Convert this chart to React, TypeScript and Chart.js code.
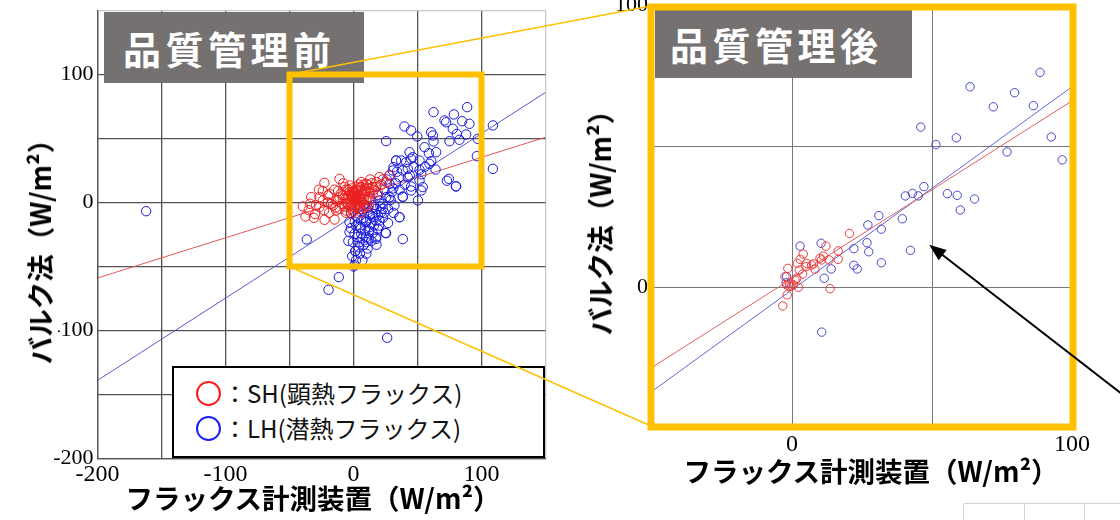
import React, { useEffect, useRef } from 'react';
import { Chart, registerables } from 'chart.js';
Chart.register(...registerables);

// ---- data (W/m2) ----
const SH_BEFORE: number[][] = [
  [-39.6,-3.1],[-37.5,-10.9],[-33,4.2],[-29.2,-2.3],[-26.6,4.2],[-26.6,-3.6],[-24,1.6],[-22.7,15.4],[-22.6,-13.5],[-20,5.5],
  [-18.8,6.8],[-17.4,-1],[-16,-2.3],[-14.8,-13.3],[-13.5,-6.3],[-13.5,1.6],[-10.9,18.5],[-10.9,-4.9],[-8.3,2.9],[-5.7,-6.3],
  [-4.4,-1],[-3.1,13.3],[-1.8,-8.8],[-0.5,8.1],[2.1,4.2],[3.4,-3.6],[6,-7.6],[7.3,6.8],[9.9,14.6],[9.9,-2.3],
  [12.5,1.6],[15.1,6.8],[17.7,12],[20.3,19.8],[25.5,15.9],[28.1,21.1],
  [-8,6],[-6,3],[-5,0],[-4,5],[-3,8],[-2,2],[-1,-2],[0,0],[0,4],[1,7],[1,1],[2,-1],[2,10],[3,3],
  [3,6],[4,1],[4,9],[5,4],[5,12],[6,2],[6,7],[7,10],[8,3],[8,14],[9,6],[10,9],[11,4],[12,11],[13,8],
  [14,15],[-7,-3],[-9,-1],[-11,4],[-12,9],[-6,10],[-2,-5],[1,-4],[4,-2],[7,0],[10,2],[-15,10],[16,10],
  [18,16],[-3,-3],[-1,5],[3,12],[-6,-8],[-19,-8],[-24,9],[-30,-9],[-34,-1],[-8,15],[-31,-12],[22,14],
  [-1,11],[6,16],[-10,7],[0,-7],
  [-1,3],[1,5],[2,2],[3,0],[-2,6],[0,9],[4,14],[6,12],[9,11],[11,14],[13,18],[15,12],[-4,10],[-7,12],
  [-12,2],[-14,-4],[-20,0],[-23,-6],[-27,10],[-35,-6],[8,-4],[5,-5],[12,-3],[19,8],[23,18]
];
const LH_BEFORE: number[][] = [
  [-162,-6.8],[-36.5,-28.9],[-11.5,-58.3],[-19.5,-68.2],[26.3,-105.7],[0.8,-49],[1.3,-38],
  [38.5,-28.6],[25,-23.7],[17.7,-28.4],[36,-11.5],[31.3,-8.1],[32,-2.3],[50.3,1.6],[52.9,9.4],[38.5,4.7],[45,12.5],[80,12.5],[73,17],
  [28.1,14.6],[30.7,25],[33.3,32.8],[15.1,-8.8],[9.9,-14.1],[17.7,-14.1],[22.9,-4.9],[2.1,-18],[25.5,4.2],[20.3,1.6],
  [-3.1,-15.4],[-3.1,-23.2],[-0.5,-31],[1.6,-38],[0,-50],[4.7,-31],[6,-24.5],[9.9,-27.1],[12.5,-19.3],[17.7,-27.1],
  [19,-20.6],[25.5,-24],[21.6,-7.6],[35.9,-11.5],[28.1,4.2],[38.5,4.2],[45,9.4],[7.3,-6.3],[2.1,-10.2],[15.1,-11.5],
  [9.9,-15.4],[4.7,-19.3],[0.8,-24.5],[20.3,-14.1],[15.1,-3.6],[22.9,-1],
  [62.5,70.6],[88.8,74.5],[78.4,68.8],[71.1,64.1],[72.4,62.7],[84.9,63.5],[90.6,61.5],[77.6,57.6],[39.8,59.4],[45,56.3],
  [49.8,51.6],[60.7,54.9],[62,52.3],[62.5,47.7],[75,47.9],[82.8,49],[88,53.1],[80.7,53.6],[25.5,47.9],[97.1,49.7],
  [108.9,60.2],[96.4,36.2],[108.9,26.3],[55.5,43.2],[58.9,38.5],[64.6,39.3],[60.7,32.3],[64.1,25.8],[43.8,39.3],[46.3,35.4],
  [51.6,32.8],[33.3,32.8],[37.3,32.8],[41.2,31.5],[45,34.1],[31.3,27.6],[38.5,25],[42.4,26.3],[51.6,25.5],[59.4,30.2],
  [74.5,18.5],[80.2,12.7],[28.1,21.1],[35.9,19.8],[42.4,19.8],[51.6,17.2],[54.1,12],
  [5,-3],[8,-12],[11,-8],[12,-22],[14,-16],[6,-14],[3,-27],[8,-33],[11,-36],[14,-30],[5,-40],[-2,-8],[18,-5],
  [20,-18],[23,-12],[27,-16],[16,-2],[13,3],[19,6],[24,10],[31,11],[26,18],[34,24],[10,-40],[7,-45],[-1,-42],
  [3,-12],[6,-20],[9,-22],[12,-28],[15,-24],[4,-35],[7,-28],[10,-31],[13,-10],[16,-18],[19,-10],[21,-3],[24,-8],
  [27,-5],[29,2],[30,8],[33,15],[36,10],[40,14],[44,21],[47,28],[53,22],[56,28],[18,-33],[2,-45],[-4,-30],
  [-2,-20],[1,-15],[8,-2],[11,-4]
];
const SH_AFTER: number[][] = [
  [20.5,19],[16.5,12.8],[16.5,9.8],[12.1,14.5],[11.2,11],[10,10.2],[13.2,9.6],[8.2,6.3],[7,7.8],[5.2,8.4],
  [4,11.7],[2.9,9.8],[1.9,8.4],[2.6,6],[3.8,4.6],[1.7,3.1],[-1.5,6.6],[-2.5,3.7],[-1.9,0.7],[-1,1.3],
  [-0.1,0.4],[2.3,-0.1],[-1.7,-2.8],[-3.3,-6.7],[13.6,-0.6],[10.6,9.6],[1.1,2.5],[5,7.2],[7.7,8.2],[0.5,0.8],[-0.8,0.2]
];
const LH_AFTER: number[][] = [
  [88.6,76.1],[63.6,71],[79.5,68.9],[71.9,63.9],[86.2,64.3],[46,56.7],[51.4,50.5],[58.7,52.9],[76.8,47.9],[92.6,53.2],
  [96.5,45.1],[40.5,32.3],[43,33.2],[45.1,32.3],[47.1,35.6],[55.5,33.1],[59,32.5],[60.1,27.3],[65.2,31.2],[39.4,24.2],
  [31,25.3],[27.1,22],[31.9,20.5],[22.1,13.6],[26.8,15.7],[27.4,12.5],[42.3,13],[22.1,7.7],[23.3,6.4],[31.9,8.6],
  [14,6.4],[11.5,3.1],[2.9,14.5],[10.4,15.5],[-1.9,3.7],[10.6,-16],[-2.1,1.5]
];
// regression lines (end points)
const SH_FIT_BEFORE: number[][] = [[-200,-59],[150,51]];
const LH_FIT_BEFORE: number[][] = [[-200,-139],[150,86]];
const SH_FIT_AFTER: number[][] = [[-50,-28.5],[100,66]];
const LH_FIT_AFTER: number[][] = [[-50,-37],[100,71]];
// axes
const BEFORE_RANGE = [-200, 150];
const AFTER_RANGE = [-50, 100];
const GRID_STEP = 50;
const BEFORE_TICK_LABELS = [-200, -100, 0, 100];
const AFTER_TICK_LABELS = [0, 100];
const ZOOM_BOX_X = [-50, 100];
const ZOOM_BOX_Y = [-50, 100];
const ARROW_TIP = [49, 15];

const TITLE_BEFORE = '品質管理前';
const TITLE_AFTER = '品質管理後';
const X_TITLE = 'フラックス計測装置（W/m²）';
const Y_TITLE = 'バルク法（W/m²）';
const LEGEND_SH = '：SH(顕熱フラックス)';
const LEGEND_LH = '：LH(潜熱フラックス)';

const GOLD = '#FFC000';
const JP = "'Noto Sans CJK JP', 'Noto Sans', sans-serif";
const SERIF = "'Liberation Serif', 'Times New Roman', serif";

const pts = (a: number[][]) => a.map(([x, y]) => ({ x, y }));

function buildConfig(opts: any) {
  const { sh, lh, shFit, lhFit, range, labels, yWidth, xHeight, padding, r, colors, gridColor, gridWidth } = opts;
  const tickCb = (v: any) => (labels.includes(Number(v)) ? String(v) : '');
  const axis = (isY: boolean) => ({
    type: 'linear',
    min: range[0],
    max: range[1],
    grid: {
      color: gridColor,
      lineWidth: gridWidth,
      drawTicks: false,
    },
    border: { display: true, color: '#555', width: gridWidth },
    ticks: {
      stepSize: GRID_STEP,
      autoSkip: false,
      maxRotation: 0,
      padding: isY ? 4 : 2,
      color: '#000',
      font: { family: SERIF, size: isY ? 22 : 24 },
      callback: tickCb,
    },
    afterFit: (s: any) => {
      if (isY) s.width = yWidth;
      else s.height = xHeight;
    },
  });
  return {
    type: 'scatter',
    data: {
      datasets: [
        { data: pts(sh), borderColor: colors.sh, backgroundColor: 'rgba(0,0,0,0)', borderWidth: 1, pointRadius: r, pointHoverRadius: r },
        { data: pts(lh), borderColor: colors.lh, backgroundColor: 'rgba(0,0,0,0)', borderWidth: 1, pointRadius: r, pointHoverRadius: r },
        { data: pts(shFit), showLine: true, borderColor: colors.shLine, borderWidth: 1, pointRadius: 0 },
        { data: pts(lhFit), showLine: true, borderColor: colors.lhLine, borderWidth: 1, pointRadius: 0 },
      ],
    },
    options: {
      responsive: false,
      animation: false,
      layout: { padding },
      plugins: { legend: { display: false }, tooltip: { enabled: false }, title: { display: false } },
      scales: { x: axis(false), y: axis(true) },
    },
  };
}

export default function App() {
  const leftRef = useRef<HTMLCanvasElement>(null);
  const rightRef = useRef<HTMLCanvasElement>(null);
  const overRef = useRef<HTMLCanvasElement>(null);

  const LEFT_TOP = -30;
  const RIGHT_LEFT = 560;
  const RIGHT_TOP = -30;

  useEffect(() => {
    const left = new Chart(leftRef.current as any, buildConfig({
      sh: SH_BEFORE, lh: LH_BEFORE, shFit: SH_FIT_BEFORE, lhFit: LH_FIT_BEFORE,
      range: BEFORE_RANGE, labels: BEFORE_TICK_LABELS,
      yWidth: 97.5, xHeight: 61.5, padding: { left: 0, right: 14.5, top: 40.5, bottom: 0 },
      r: 4.7,
      colors: { sh: 'rgb(235,30,30)', lh: 'rgb(25,25,220)', shLine: 'rgb(225,90,90)', lhLine: 'rgb(90,90,215)' },
      gridColor: (c: any) => (c.tick && c.tick.value === BEFORE_RANGE[1] ? '#c8c8c8' : '#525252'),
      gridWidth: 1.3,
    }) as any);
    const right = new Chart(rightRef.current as any, buildConfig({
      sh: SH_AFTER, lh: LH_AFTER, shFit: SH_FIT_AFTER, lhFit: LH_FIT_AFTER,
      range: AFTER_RANGE, labels: AFTER_TICK_LABELS,
      yWidth: 92, xHeight: 92, padding: { left: 0, right: 48, top: 35, bottom: 0 },
      r: 4.2,
      colors: { sh: 'rgb(232,60,60)', lh: 'rgb(70,70,205)', shLine: 'rgb(225,95,95)', lhLine: 'rgb(100,100,220)' },
      gridColor: '#777',
      gridWidth: 1,
    }) as any);

    // overlay: zoom box, connectors, frame, arrow
    const oc = overRef.current as HTMLCanvasElement;
    const ctx = oc.getContext('2d') as CanvasRenderingContext2D;
    ctx.clearRect(0, 0, oc.width, oc.height);
    const lx = (v: number) => left.scales.x.getPixelForValue(v);
    const ly = (v: number) => left.scales.y.getPixelForValue(v) + LEFT_TOP;
    const rx = (v: number) => right.scales.x.getPixelForValue(v) + RIGHT_LEFT;
    const ry = (v: number) => right.scales.y.getPixelForValue(v) + RIGHT_TOP;

    const bx0 = lx(ZOOM_BOX_X[0]), bx1 = lx(ZOOM_BOX_X[1]);
    const by0 = ly(ZOOM_BOX_Y[1]), by1 = ly(ZOOM_BOX_Y[0]);
    const ra = right.chartArea;
    const fx0 = ra.left + RIGHT_LEFT, fx1 = ra.right + RIGHT_LEFT;
    const fy0 = ra.top + RIGHT_TOP, fy1 = ra.bottom + RIGHT_TOP;

    ctx.strokeStyle = GOLD;
    ctx.lineWidth = 1.4;
    ctx.beginPath();
    ctx.moveTo(bx0, by0); ctx.lineTo(fx0 - 1, fy0 + 1);
    ctx.moveTo(bx0, by1); ctx.lineTo(fx0 - 1, fy1 - 2);
    ctx.stroke();

    ctx.lineWidth = 6;
    ctx.strokeRect(bx0, by0, bx1 - bx0, by1 - by0);
    ctx.lineWidth = 7;
    ctx.strokeRect(fx0 - 1, fy0 + 2, fx1 - fx0 + 2, fy1 - fy0 - 3);

    // arrow
    const tx = rx(ARROW_TIP[0]), ty = ry(ARROW_TIP[1]);
    const sx = 1125, sy = ty + (1125 - tx) * 0.775;
    const ang = Math.atan2(ty - sy, tx - sx);
    ctx.strokeStyle = '#000';
    ctx.fillStyle = '#000';
    ctx.lineWidth = 2;
    ctx.beginPath();
    ctx.moveTo(sx, sy);
    ctx.lineTo(tx - Math.cos(ang) * 12, ty - Math.sin(ang) * 12);
    ctx.stroke();
    ctx.beginPath();
    ctx.moveTo(tx, ty);
    ctx.lineTo(tx - Math.cos(ang) * 17 + Math.sin(ang) * 6.5, ty - Math.sin(ang) * 17 - Math.cos(ang) * 6.5);
    ctx.lineTo(tx - Math.cos(ang) * 17 - Math.sin(ang) * 6.5, ty - Math.sin(ang) * 17 + Math.cos(ang) * 6.5);
    ctx.closePath();
    ctx.fill();

    // partial table at bottom right
    ctx.strokeStyle = '#d4d4d4';
    ctx.lineWidth = 1;
    ctx.beginPath();
    ctx.moveTo(963.5, 503.5); ctx.lineTo(1120, 503.5);
    [963.5, 1024.5, 1084.5].forEach((x) => { ctx.moveTo(x, 503.5); ctx.lineTo(x, 520); });
    ctx.stroke();

    return () => {
      left.destroy();
      right.destroy();
    };
  }, []);

  const abs = (s: any): React.CSSProperties => ({ position: 'absolute', ...s });
  const titleBox = (l: number, t: number, w: number, h: number, pl: number, text: string) => (
    <div style={abs({ left: l, top: t, width: w, height: h, background: '#767171', color: '#fff',
      fontFamily: JP, fontWeight: 700, fontSize: 38, letterSpacing: 4.5, lineHeight: h + 'px',
      paddingLeft: pl, boxSizing: 'border-box', whiteSpace: 'nowrap' })}>{text}</div>
  );
  const axisTitle = (cx: number, cy: number, rot: boolean) => (
    <div style={abs({ left: cx, top: cy, transform: `translate(-50%,-50%)${rot ? ' rotate(-90deg)' : ''}`,
      fontFamily: JP, fontWeight: 700, fontSize: 27.5, color: '#000', whiteSpace: 'nowrap',
      lineHeight: rot ? '38px' : '32px', background: rot ? '#fff' : 'transparent' })}>
      {rot ? Y_TITLE : X_TITLE}
    </div>
  );
  const legendRow = (top: number, color: string, text: string) => (
    <div style={abs({ left: 0, top, width: 370, height: 34 })}>
      <div style={abs({ left: 22, top: 5, width: 25, height: 25, border: `2.4px solid ${color}`, borderRadius: '50%', boxSizing: 'border-box' })} />
      <div style={abs({ left: 49, top: 0, lineHeight: '34px', fontFamily: JP, fontSize: 24, color: '#111', whiteSpace: 'nowrap' })}>{text}</div>
    </div>
  );

  return (
    <div style={abs({ left: 0, top: 0, width: 1120, height: 520, overflow: 'hidden', background: '#fff' })}>
      <canvas ref={leftRef} width={560} height={550} style={abs({ left: 0, top: LEFT_TOP, width: 560, height: 550 })} />
      <canvas ref={rightRef} width={560} height={550} style={abs({ left: RIGHT_LEFT, top: RIGHT_TOP, width: 560, height: 550 })} />
      <div style={abs({ left: 172, top: 366, width: 373, height: 92, border: '2px solid #000', background: '#fff', boxSizing: 'border-box' })}>
        {legendRow(8, '#ff1a1a', LEGEND_SH)}
        {legendRow(43, '#1a1aff', LEGEND_LH)}
      </div>
      {titleBox(104, 12, 260, 71, 19, TITLE_BEFORE)}
      {titleBox(655, 10, 257, 68, 15, TITLE_AFTER)}
      {axisTitle(39, 245, true)}
      {axisTitle(599, 216, true)}
      {axisTitle(313, 497, false)}
      {axisTitle(871, 470, false)}
      <canvas ref={overRef} width={1120} height={520} style={abs({ left: 0, top: 0, width: 1120, height: 520, pointerEvents: 'none' })} />
    </div>
  );
}
